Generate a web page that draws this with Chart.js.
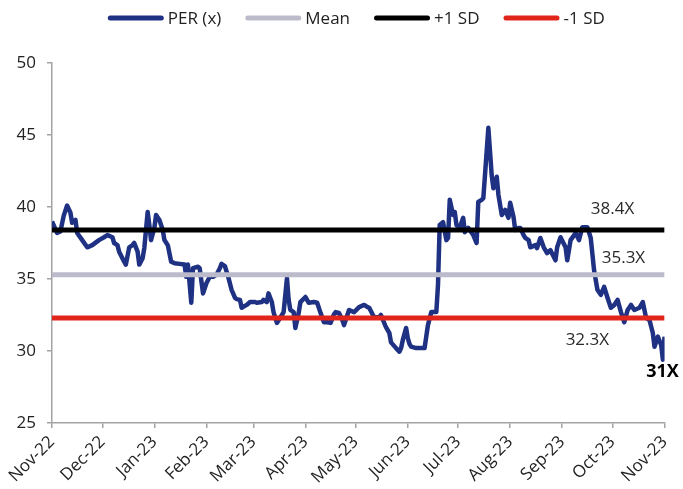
<!DOCTYPE html>
<html>
<head>
<meta charset="utf-8">
<script src="https://cdn.jsdelivr.net/npm/chart.js@4/dist/chart.umd.min.js"></script>
<style>
  html, body { margin: 0; padding: 0; background: #fff; }
  #wrap { width: 683px; height: 489px; position: relative; }
</style>
</head>
<body>
<div id="wrap"><canvas id="per" width="683" height="489"></canvas></div>
<script>
// Month ticks: days counted from 1 Nov 2022
const monthLabels = ['Nov-22','Dec-22','Jan-23','Feb-23','Mar-23','Apr-23','May-23','Jun-23','Jul-23','Aug-23','Sep-23','Oct-23','Nov-23'];
const monthStartDays = [0, 30, 61, 92, 120, 151, 181, 212, 242, 273, 304, 334, 365];

// Forward PER (x), sampled by day since 1 Nov 2022
const perDays = [
  0, 3, 5, 7, 9, 11, 12, 14, 15, 18, 21, 24, 28, 31, 33, 36, 37, 39, 40, 43,
  44, 46, 48, 49, 51, 52, 54, 55, 57, 58, 59, 61, 62, 64, 66, 67, 69, 71, 73, 76,
  79, 80, 81, 83, 84, 87, 88, 90, 92, 94, 96, 98, 100, 101, 103, 105, 107, 109, 110, 112,
  113, 116, 118, 121, 122, 125, 126, 128, 129, 131, 132, 134, 137, 138, 140, 141, 142, 144, 145, 147,
  148, 151, 153, 156, 158, 160, 162, 164, 166, 168, 169, 171, 173, 174, 176, 177, 180, 183, 186, 188,
  189, 191, 192, 195, 196, 199, 201, 202, 205, 207, 208, 209, 211, 212, 213, 214, 217, 220, 222, 223,
  224, 226, 229, 230, 231, 233, 235, 236, 237, 239, 240, 241, 243, 245, 246, 248, 251, 253, 254, 256,
  257, 260, 262, 263, 265, 266, 268, 270, 272, 273, 275, 276, 278, 279, 281, 282, 284, 285, 288, 289,
  291, 293, 295, 297, 300, 301, 303, 306, 307, 309, 312, 314, 316, 319, 321, 323, 325, 327, 329, 331,
  333, 335, 337, 339, 341, 343, 345, 347, 350, 352, 354, 356, 358, 359, 361, 363, 364, 365
];
const perValues = [
  39.0, 38.2, 38.3, 39.4, 40.1, 39.6, 38.9, 39.1, 38.2, 37.7, 37.2, 37.35, 37.7, 37.9, 38.05, 37.9, 37.5, 37.35, 36.9, 36.2,
  36.0, 37.2, 37.35, 37.5, 36.9, 36.0, 36.45, 37.15, 39.65, 38.75, 37.7, 38.55, 39.45, 39.1, 38.4, 37.7, 37.35, 36.2, 36.1, 36.05,
  36.0, 35.15, 36.0, 33.35, 35.75, 35.85, 35.75, 34.0, 34.7, 35.15, 35.15, 35.3, 35.75, 36.05, 35.9, 35.15, 34.25, 33.7, 33.6, 33.55,
  33.0, 33.2, 33.4, 33.4, 33.35, 33.4, 33.55, 33.4, 34.0, 33.4, 32.7, 31.95, 32.5, 32.7, 35.05, 33.55, 32.85, 32.7, 31.6, 32.65,
  33.4, 33.75, 33.35, 33.4, 33.35, 32.65, 32.0, 32.0, 31.95, 32.55, 32.7, 32.65, 32.15, 31.8, 32.5, 32.85, 32.7, 33.05, 33.2, 33.05,
  33.0, 32.55, 32.35, 32.35, 32.5, 31.65, 31.25, 30.6, 30.2, 29.95, 30.2, 30.75, 31.6, 30.9, 30.5, 30.3, 30.2, 30.2, 30.2, 31.0,
  31.8, 32.7, 32.7, 34.6, 38.75, 38.95, 37.7, 37.85, 40.5, 39.45, 39.65, 38.75, 38.6, 39.25, 38.25, 38.55, 38.05, 37.5, 40.35, 40.5,
  40.6, 45.5, 42.2, 41.3, 42.1, 40.85, 39.45, 39.8, 39.25, 40.3, 39.3, 38.4, 38.55, 38.55, 38.05, 37.85, 37.7, 37.2, 37.35, 37.15,
  37.85, 37.2, 36.8, 37.0, 36.3, 37.2, 37.9, 37.2, 36.3, 37.7, 38.2, 37.7, 38.6, 38.6, 37.85, 35.6, 34.25, 33.9, 34.45, 33.7,
  33.0, 33.2, 33.55, 32.7, 32.0, 32.85, 33.2, 32.85, 33.0, 33.4, 32.3, 32.15, 31.25, 30.3, 31.0, 30.4, 29.4, 31.0
];

// Reference levels
const meanLevel = 35.3;
const plusSdLevel = 38.4;
const minusSdLevel = 32.3;

const seriesNames = ['PER (x)', 'Mean', '+1 SD', '-1 SD'];
const seriesColors = ['#1F3182', '#BBBBCB', '#000000', '#E1251B'];

const FONT = '"Open Sans", "Noto Sans", sans-serif';
const AXIS_GREY = '#A3A3A3';

const flatLine = (level) => [
  { x: monthStartDays[0], y: level },
  { x: monthStartDays[monthStartDays.length - 1], y: level }
];

// Legend drawn as one centred row of rounded strokes above the plot
const rowLegend = {
  id: 'rowLegend',
  afterDraw(chart) {
    const ctx = chart.ctx;
    const area = chart.chartArea;
    ctx.save();
    ctx.font = '17px ' + FONT;
    const boxW = 56, gap = 4, itemGap = 24, y = 18;
    const items = chart.data.datasets.map(ds => ({
      label: ds.label, color: ds.borderColor, w: ctx.measureText(ds.label).width
    }));
    const total = items.reduce((s, it) => s + boxW + gap + it.w, 0) + itemGap * (items.length - 1);
    let x = (area.left + area.right) / 2 - total / 2 - 2;
    items.forEach(it => {
      ctx.strokeStyle = it.color;
      ctx.lineWidth = 5;
      ctx.lineCap = 'round';
      ctx.beginPath();
      ctx.moveTo(x + 2.5, y);
      ctx.lineTo(x + boxW - 2.5, y);
      ctx.stroke();
      ctx.fillStyle = '#222';
      ctx.textAlign = 'left';
      ctx.textBaseline = 'middle';
      ctx.fillText(it.label, x + boxW + gap, y + 1);
      x += boxW + gap + it.w + itemGap;
    });
    ctx.restore();
  }
};

// Value notes next to the reference lines and the latest reading
const levelNotes = {
  id: 'levelNotes',
  afterDatasetsDraw(chart) {
    const ctx = chart.ctx;
    const xs = chart.scales.x, ys = chart.scales.y;
    const lastDay = perDays[perDays.length - 1];
    const lastVal = perValues[perValues.length - 1];
    const notes = [
      { text: plusSdLevel.toFixed(1) + 'X', day: 334, level: plusSdLevel, dy: -21, bold: false },
      { text: meanLevel.toFixed(1) + 'X', day: 340.5, level: meanLevel, dy: -17, bold: false },
      { text: minusSdLevel.toFixed(1) + 'X', day: 319, level: minusSdLevel, dy: 22, bold: false },
      { text: Math.round(lastVal) + 'X', day: lastDay - 1.2, level: lastVal, dy: 35, bold: true }
    ];
    ctx.save();
    ctx.textAlign = 'center';
    ctx.textBaseline = 'middle';
    notes.forEach(n => {
      ctx.font = (n.bold ? 'bold 18px ' : '17px ') + FONT;
      ctx.fillStyle = n.bold ? '#000' : '#2a2a2a';
      ctx.fillText(n.text, xs.getPixelForValue(n.day), ys.getPixelForValue(n.level) + n.dy);
    });
    ctx.restore();
  }
};

function draw() {
  const perPoints = perDays.map((d, i) => ({ x: d, y: perValues[i] }));
  new Chart(document.getElementById('per'), {
    type: 'line',
    data: {
      datasets: [
        { label: seriesNames[0], data: perPoints, borderColor: seriesColors[0], borderWidth: 4.5, order: 10 },
        { label: seriesNames[1], data: flatLine(meanLevel), borderColor: seriesColors[1], borderWidth: 5, order: 2 },
        { label: seriesNames[2], data: flatLine(plusSdLevel), borderColor: seriesColors[2], borderWidth: 5, order: 1 },
        { label: seriesNames[3], data: flatLine(minusSdLevel), borderColor: seriesColors[3], borderWidth: 5, order: 0 }
      ]
    },
    options: {
      responsive: false,
      animation: false,
      devicePixelRatio: 1,
      layout: { padding: { top: 63, right: 16, bottom: 0, left: 0 } },
      elements: {
        point: { radius: 0 },
        line: { tension: 0, fill: false, borderJoinStyle: 'round', borderCapStyle: 'butt' }
      },
      plugins: { legend: { display: false }, tooltip: { enabled: false } },
      scales: {
        x: {
          type: 'linear',
          min: monthStartDays[0],
          max: monthStartDays[monthStartDays.length - 1],
          afterBuildTicks: (axis) => { axis.ticks = monthStartDays.map(v => ({ value: v })); },
          afterFit: (axis) => { axis.height = 66; },
          ticks: {
            autoSkip: false,
            minRotation: 45,
            maxRotation: 45,
            padding: 4,
            color: '#222',
            font: { family: FONT, size: 17 },
            callback: (v) => monthLabels[monthStartDays.indexOf(v)]
          },
          grid: { drawOnChartArea: false, drawTicks: true, tickLength: 5, color: AXIS_GREY, lineWidth: 1.5 },
          border: { color: AXIS_GREY, width: 1.5 }
        },
        y: {
          min: 25,
          max: 50,
          afterFit: (axis) => { axis.width = 52; },
          ticks: { stepSize: 5, padding: 11, color: '#222', font: { family: FONT, size: 17 } },
          grid: { drawOnChartArea: false, drawTicks: true, tickLength: 5, color: AXIS_GREY, lineWidth: 1.5 },
          border: { color: AXIS_GREY, width: 1.5 }
        }
      }
    },
    plugins: [levelNotes, rowLegend]
  });
}

if (document.fonts && document.fonts.load) {
  Promise.all([
    document.fonts.load('17px "Open Sans"'),
    document.fonts.load('bold 18px "Open Sans"')
  ]).then(draw, draw);
} else {
  draw();
}
</script>
</body>
</html>
